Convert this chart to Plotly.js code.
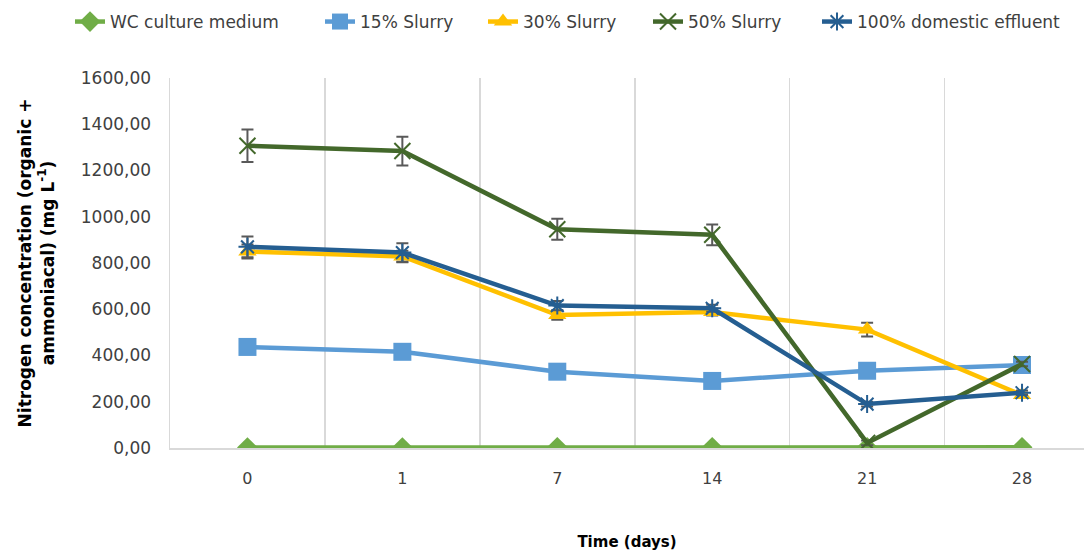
<!DOCTYPE html>
<html>
<head>
<meta charset="utf-8">
<script src="https://cdn.plot.ly/plotly-3.0.1.min.js"></script>
<style>html,body{margin:0;padding:0;background:#fff;}#chart{width:1084px;height:556px;}</style>
</head>
<body>
<div id="chart"></div>
<script>
const days = ["0", "1", "7", "14", "21", "28"];
const wcCulture = [2, 2, 3, 3, 3, 3];
const slurry15 = [437, 416, 330, 290, 334, 359];
const slurry30 = [850, 828, 575, 588, 512, 229];
const slurry50 = [1307, 1284, 946, 922, 22, 363];
const domestic100 = [870, 845, 616, 604, 190, 239];
const err30 = [30, 25, 20, 15, 30, 10];
const err50 = [70, 62, 45, 45, 10, 10];
const err100 = [45, 40, 20, 15, 10, 10];

const errStyle = (arr) => ({type: "data", array: arr, visible: true, color: "#595959", thickness: 2, width: 6});

const traces = [
  {name: "WC culture medium", legend: "legend", x: days, y: wcCulture, mode: "lines+markers",
   line: {color: "#70AD47", width: 4.5}, marker: {symbol: "diamond", size: 16, color: "#70AD47"}},
  {name: "15% Slurry", legend: "legend2", x: days, y: slurry15, mode: "lines+markers",
   line: {color: "#5B9BD5", width: 4.5}, marker: {symbol: "square", size: 18, color: "#5B9BD5"}},
  {name: "30% Slurry", legend: "legend3", x: days, y: slurry30, mode: "lines+markers", error_y: errStyle(err30),
   line: {color: "#FFC000", width: 4.5}, marker: {symbol: "triangle-up", size: 16, color: "#FFC000"}},
  {name: "50% Slurry", legend: "legend4", x: days, y: slurry50, mode: "lines+markers", error_y: errStyle(err50),
   line: {color: "#43682B", width: 4.5}, marker: {symbol: "x-thin-open", size: 16, color: "#43682B", line: {width: 2, color: "#43682B"}}},
  {name: "100% domestic effluent", legend: "legend5", x: days, y: domestic100, mode: "lines+markers", error_y: errStyle(err100),
   line: {color: "#255E91", width: 4.5}, marker: {symbol: "asterisk-open", size: 15, color: "#255E91", line: {width: 2, color: "#255E91"}}}
];

const legendBase = (xpx) => ({orientation: "h", x: (xpx - 170) / 914, xanchor: "left", y: 1.2, yanchor: "top",
  font: {size: 17, color: "#404040"}, bgcolor: "rgba(0,0,0,0)"});

const layout = {
  width: 1084, height: 556,
  margin: {l: 170, r: 0, t: 78, b: 108},
  paper_bgcolor: "#fff", plot_bgcolor: "#fff",
  separators: ",.",
  font: {family: "DejaVu Sans, Liberation Sans, sans-serif", color: "#595959"},
  showlegend: true,
  legend: legendBase(70),
  legend2: legendBase(320),
  legend3: legendBase(483),
  legend4: legendBase(648),
  legend5: legendBase(817),
  xaxis: {type: "category", range: [-0.5, 5.4], showline: true, linecolor: "#D9D9D9", linewidth: 1.5,
          showgrid: true, gridcolor: "#D9D9D9", gridwidth: 1.5, tickson: "boundaries", ticks: "",
          zeroline: false, tickfont: {size: 16, color: "#404040"}, ticklabelstandoff: 15,
          title: {text: "<b>Time (days)</b>", font: {size: 15, color: "#000"}, standoff: 50}},
  yaxis: {range: [0, 1600], dtick: 200, tickformat: ".2f", showline: true, linecolor: "#D9D9D9", linewidth: 1.5,
          showgrid: false, zeroline: false, ticks: "", tickfont: {size: 17, color: "#404040"}, ticklabelstandoff: 14,
          title: {text: "<b>Nitrogen concentration (organic +<br>ammoniacal) (mg L<sup>-1</sup>)</b>", font: {size: 17, color: "#000"}, standoff: 22}}
};

Plotly.newPlot("chart", traces, layout, {displayModeBar: false, staticPlot: true});
</script>
</body>
</html>
